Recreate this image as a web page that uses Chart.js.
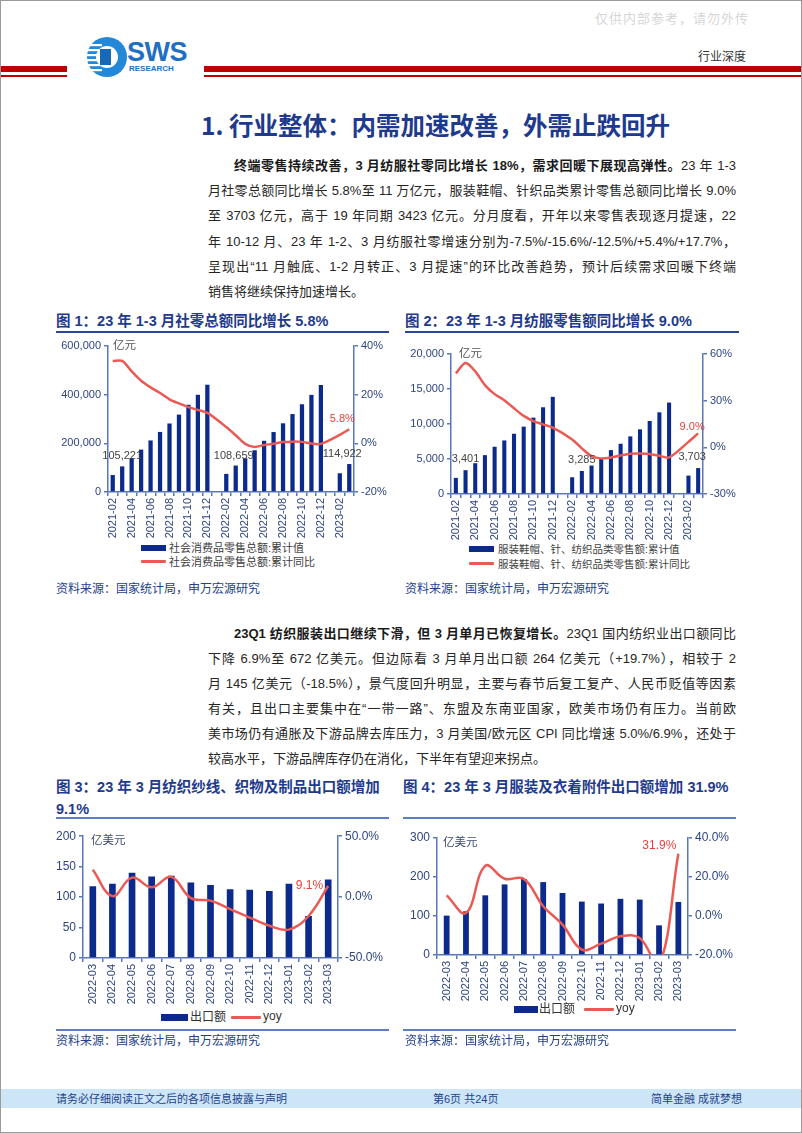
<!DOCTYPE html>
<html lang="zh-CN">
<head>
<meta charset="utf-8">
<script src="https://cdn.jsdelivr.net/npm/chart.js@4.4.0/dist/chart.umd.min.js"></script>
<style>
	body { margin: 0; background: #fff; }
	#page {
		position: relative; width: 802px; height: 1133px; box-sizing: border-box;
		border: 1px solid #9a9a9a; overflow: hidden; background: #fff;
		font-family: 'Liberation Sans', 'Noto Sans CJK SC', sans-serif;
	}
	.abs { position: absolute; white-space: nowrap; }
	.para { position: absolute; font-size: 13px; line-height: 20px; color: #262626;
		white-space: nowrap; text-align: justify; text-align-last: justify; }
	.para.last { text-align: left; text-align-last: left; }
	.para b { color: #1a1a1a; }
	.fig-title { position: absolute; font-size: 14.5px; font-weight: bold; color: #1f3b8c; line-height: 22px; white-space: nowrap; }
	.rule { position: absolute; height: 2px; background: #2a4895; }
	.rule.light { background: #5d7cc2; }
	.src { position: absolute; font-size: 12px; color: #23408e; white-space: nowrap; line-height: 16px; }
	.box { position: absolute; }
	.unit { position: absolute; font-size: 11.5px; line-height: 14px; white-space: nowrap; }
	.lg { position: absolute; font-size: 11px; line-height: 14px; color: #404040; white-space: nowrap; }
	.sw-bar { position: absolute; height: 6px; background: #0c2a8c; }
	.sw-line { position: absolute; height: 3px; background: #ea5a55; border-radius: 1px; }
</style>
</head>
<body>
<div id="page">
	<div class="abs" style="left:594px;top:7px;font-size:13px;color:#d6d6d6;letter-spacing:1px;">仅供内部参考，请勿外传</div>

	<!-- logo -->
	<svg class="abs" style="left:84px;top:34px;" width="42" height="44" viewBox="0 0 42 44">
		<circle cx="22" cy="22" r="20" fill="#2488d8"/>
		<circle cx="22" cy="22" r="11" fill="#fff"/>
		<rect x="15" y="14" width="11" height="16" fill="#1868b8"/>
		<rect x="0" y="9" width="17" height="2.2" fill="#fff"/>
		<rect x="0" y="14" width="15" height="2.2" fill="#fff"/>
		<rect x="0" y="19" width="14" height="2.2" fill="#fff"/>
		<rect x="0" y="24" width="14" height="2.2" fill="#fff"/>
		<rect x="0" y="29" width="15" height="2.2" fill="#fff"/>
		<rect x="0" y="34" width="17" height="2.2" fill="#fff"/>
	</svg>
	<div class="abs" style="left:126px;top:36px;font-size:27px;font-weight:bold;color:#1f6fc2;line-height:30px;letter-spacing:-0.5px;">SWS</div>
	<div class="abs" style="left:128px;top:63px;font-size:8px;font-weight:bold;color:#1f6fc2;line-height:10px;">RESEARCH</div>
	<div class="abs" style="left:697px;top:47px;font-size:12px;color:#333;line-height:16px;font-family:'Noto Sans CJK SC';">行业深度</div>

	<div class="abs" style="left:0;top:65px;width:66px;height:6px;background:#c00000;"></div>
	<div class="abs" style="left:0;top:74px;width:66px;height:2px;background:#c00000;"></div>
	<div class="abs" style="left:203px;top:65px;width:600px;height:6px;background:#c00000;"></div>
	<div class="abs" style="left:203px;top:74px;width:600px;height:2px;background:#c00000;"></div>

	<div class="abs" style="left:200px;top:108px;font-size:24.5px;font-weight:bold;color:#1d3a8e;line-height:32px;font-family:'Noto Sans CJK SC';">1. 行业整体：内需加速改善，外需止跌回升</div>

	<!-- paragraph 1 -->
	<div class="para" style="left:233px;top:155px;width:502px;"><b>终端零售持续改善，3 月纺服社零同比增长 18%，需求回暖下展现高弹性。</b>23 年 1-3</div>
	<div class="para" style="left:207px;top:180px;width:528px;">月社零总额同比增长 5.8%至 11 万亿元，服装鞋帽、针织品类累计零售总额同比增长 9.0%</div>
	<div class="para" style="left:207px;top:205px;width:528px;">至 3703 亿元，高于 19 年同期 3423 亿元。分月度看，开年以来零售表现逐月提速，22</div>
	<div class="para" style="left:207px;top:231px;width:528px;">年 10-12 月、23 年 1-2、3 月纺服社零增速分别为-7.5%/-15.6%/-12.5%/+5.4%/+17.7%，</div>
	<div class="para" style="left:207px;top:256px;width:528px;">呈现出“11 月触底、1-2 月转正、3 月提速”的环比改善趋势，预计后续需求回暖下终端</div>
	<div class="para last" style="left:207px;top:281px;width:528px;">销售将继续保持加速增长。</div>

	<!-- figure 1 / 2 -->
	<div class="fig-title" style="left:55px;top:309px;">图 1：23 年 1-3 月社零总额同比增长 5.8%</div>
	<div class="rule" style="left:55px;top:330px;width:333px;"></div>
	<div class="fig-title" style="left:404px;top:309px;">图 2：23 年 1-3 月纺服零售额同比增长 9.0%</div>
	<div class="rule" style="left:404px;top:330px;width:334px;"></div>

	<div class="box" style="left:50px;top:335px;width:340px;height:205px;"><canvas id="c1"></canvas></div>
	<div class="unit" style="left:112px;top:337px;color:#555;">亿元</div>
	<div class="sw-bar" style="left:140px;top:544px;width:25px;"></div>
	<div class="lg" style="left:168px;top:540px;">社会消费品零售总额:累计值</div>
	<div class="sw-line" style="left:140px;top:559px;width:25px;"></div>
	<div class="lg" style="left:168px;top:554px;">社会消费品零售总额:累计同比</div>

	<div class="box" style="left:400px;top:335px;width:340px;height:205px;"><canvas id="c2"></canvas></div>
	<div class="unit" style="left:458px;top:345px;color:#555;">亿元</div>
	<div class="sw-bar" style="left:468px;top:545px;width:25px;"></div>
	<div class="lg" style="left:497px;top:541px;font-size:10.5px;">服装鞋帽、针、纺织品类零售额:累计值</div>
	<div class="sw-line" style="left:468px;top:561px;width:25px;"></div>
	<div class="lg" style="left:497px;top:556px;font-size:10.5px;">服装鞋帽、针、纺织品类零售额:累计同比</div>

	<div class="src" style="left:55px;top:580px;">资料来源：国家统计局，申万宏源研究</div>
	<div class="src" style="left:404px;top:580px;">资料来源：国家统计局，申万宏源研究</div>

	<!-- paragraph 2 -->
	<div class="para" style="left:233px;top:623px;width:502px;"><b>23Q1 纺织服装出口继续下滑，但 3 月单月已恢复增长。</b>23Q1 国内纺织业出口额同比</div>
	<div class="para" style="left:207px;top:648px;width:528px;">下降 6.9%至 672 亿美元。但边际看 3 月单月出口额 264 亿美元（+19.7%），相较于 2</div>
	<div class="para" style="left:207px;top:673px;width:528px;">月 145 亿美元（-18.5%），景气度回升明显，主要与春节后复工复产、人民币贬值等因素</div>
	<div class="para" style="left:207px;top:698px;width:528px;">有关，且出口主要集中在“一带一路”、东盟及东南亚国家，欧美市场仍有压力。当前欧</div>
	<div class="para" style="left:207px;top:723px;width:528px;">美市场仍有通胀及下游品牌去库压力，3 月美国/欧元区 CPI 同比增速 5.0%/6.9%，还处于</div>
	<div class="para last" style="left:207px;top:748px;width:528px;">较高水平，下游品牌库存仍在消化，下半年有望迎来拐点。</div>

	<!-- figure 3 / 4 -->
	<div class="fig-title" style="left:55px;top:775px;">图 3：23 年 3 月纺织纱线、织物及制品出口额增加</div>
	<div class="fig-title" style="left:55px;top:797px;">9.1%</div>
	<div class="rule light" style="left:55px;top:816px;width:333px;"></div>
	<div class="fig-title" style="left:402px;top:775px;">图 4：23 年 3 月服装及衣着附件出口额增加 31.9%</div>
	<div class="rule light" style="left:402px;top:816px;width:333px;"></div>

	<div class="box" style="left:50px;top:825px;width:340px;height:180px;"><canvas id="c3"></canvas></div>
	<div class="unit" style="left:90px;top:832px;color:#3a4a70;">亿美元</div>
	<div class="sw-bar" style="left:160px;top:1013px;width:27px;height:7px;"></div>
	<div class="lg" style="left:189px;top:1009px;font-size:12px;color:#333;">出口额</div>
	<div class="sw-line" style="left:230px;top:1015px;width:30px;"></div>
	<div class="lg" style="left:262px;top:1008px;font-size:12px;color:#333;">yoy</div>
	<div class="rule light" style="left:55px;top:1028px;width:333px;"></div>

	<div class="box" style="left:400px;top:825px;width:340px;height:180px;"><canvas id="c4"></canvas></div>
	<div class="unit" style="left:442px;top:834px;color:#3a4a70;">亿美元</div>
	<div class="sw-bar" style="left:513px;top:1005px;width:24px;height:7px;"></div>
	<div class="lg" style="left:538px;top:1001px;font-size:12px;color:#333;">出口额</div>
	<div class="sw-line" style="left:583px;top:1007px;width:30px;"></div>
	<div class="lg" style="left:615px;top:1000px;font-size:12px;color:#333;">yoy</div>
	<div class="rule light" style="left:402px;top:1028px;width:333px;"></div>

	<div class="src" style="left:55px;top:1032px;">资料来源：国家统计局，申万宏源研究</div>
	<div class="src" style="left:404px;top:1032px;">资料来源：国家统计局，申万宏源研究</div>

	<!-- footer -->
	<div class="abs" style="left:0;top:1088px;width:802px;height:19px;background:#cde6f7;"></div>
	<div class="src" style="left:55px;top:1090px;font-size:11px;">请务必仔细阅读正文之后的各项信息披露与声明</div>
	<div class="src" style="left:432px;top:1090px;font-size:11px;">第6页 共24页</div>
	<div class="src" style="left:650px;top:1090px;font-size:11px;">简单金融 成就梦想</div>
</div>

<script>
	/* ---------------------------------------------------------
	 * DATA
	 * --------------------------------------------------------- */
	const monthsRetail = [
		'2021-02', '2021-03', '2021-04', '2021-05', '2021-06', '2021-07', '2021-08',
		'2021-09', '2021-10', '2021-11', '2021-12', '2022-01', '2022-02', '2022-03',
		'2022-04', '2022-05', '2022-06', '2022-07', '2022-08', '2022-09', '2022-10',
		'2022-11', '2022-12', '2023-01', '2023-02', '2023-03'
	];
	// 社会消费品零售总额:累计值 (亿元) / 累计同比 (%)
	const retailTotal = [
		69737, 105221, 138987, 174309, 211904, 246829, 281628, 318057, 358511, 399553, 440823, null,
		74426, 108659, 138318, 171689, 210432, 246302, 282289, 320305, 360575, 399190, 439733, null,
		77067, 114922
	];
	const retailTotalYoy = [
		33.8, 33.9, 29.6, 25.7, 23.0, 20.7, 18.1, 16.4, 14.9, 13.7, 12.5, null,
		6.7, 3.3, -0.2, -1.5, -0.7, -0.2, 0.5, 0.7, 0.6, -0.1, -0.2, null,
		3.5, 5.8
	];
	// 服装鞋帽、针、纺织品类零售额:累计值 (亿元) / 累计同比 (%)
	const apparelRetail = [
		2300, 3401, 4400, 5550, 6750, 7650, 8610, 9620, 10910, 12390, 13880, null,
		2390, 3285, 4070, 5070, 6270, 7180, 8230, 9235, 10430, 11670, 13060, null,
		2630, 3703
	];
	const apparelRetailYoy = [
		47.5, 54.2, 48.8, 40.0, 34.2, 30.3, 25.1, 20.2, 16.9, 14.8, 12.6, null,
		5.1, -0.7, -5.6, -7.1, -6.5, -5.3, -4.2, -4.0, -4.3, -5.4, -6.5, null,
		3.5, 9.0
	];

	const monthsExport = [
		'2022-03', '2022-04', '2022-05', '2022-06', '2022-07', '2022-08', '2022-09',
		'2022-10', '2022-11', '2022-12', '2023-01', '2023-02', '2023-03'
	];
	// 纺织纱线、织物及制品 出口额 (亿美元) / yoy (%)
	const textileExport = [118, 122, 140, 134, 135, 124, 120, 113, 112, 110, 122, 69, 129];
	const textileExportYoy = [22.5, 0.8, 16.0, 8.0, 16.6, -0.8, -2.9, -9.9, -16.8, -23.5, -26.7, -15.5, 9.1];
	// 服装及衣着附件 出口额 (亿美元) / yoy (%)
	const garmentExport = [101, 112, 153, 181, 195, 187, 159, 137, 132, 144, 142, 76, 136];
	const garmentExportYoy = [10.6, 1.5, 25.7, 19.1, 19.0, 5.0, -4.4, -17.2, -14.2, -10.4, -11.3, -25.0, 31.9];

	/* ---------------------------------------------------------
	 * SHARED STYLE
	 * --------------------------------------------------------- */
	const BAR = '#0c2a8c';
	const LINE = '#ea5a55';
	const AXIS = '#5a78b8';
	const TICK = '#2f4580';

	Chart.defaults.font.family = "'Liberation Sans', 'Noto Sans CJK SC', sans-serif";
	Chart.defaults.animation = false;

	const thousands = ( v ) => v.toLocaleString( 'en-US' );
	const pct0 = ( v ) => v + '%';
	const pct1 = ( v ) => v.toFixed( 1 ) + '%';

	// draws a few value labels next to chosen points
	const valueLabels = {
		id: 'valueLabels',
		afterDatasetsDraw( chart, args, opts ) {
			const ctx = chart.ctx;
			( opts.items || [] ).forEach( ( it ) => {
				const el = chart.getDatasetMeta( it.ds ).data[ it.i ];
				const value = chart.data.datasets[ it.ds ].data[ it.i ];
				ctx.save();
				ctx.font = ( it.size || 11 ) + "px 'Liberation Sans', sans-serif";
				ctx.fillStyle = it.color;
				ctx.textAlign = it.align || 'center';
				ctx.textBaseline = 'middle';
				ctx.fillText( it.fmt( value ), el.x + ( it.dx || 0 ), el.y + ( it.dy || 0 ) );
				ctx.restore();
			} );
		}
	};

	function yAxis( pos, min, max, step, fmt, width, size ) {
		return {
			position: pos,
			min,
			max,
			grid: { drawOnChartArea: false, tickLength: 4, color: AXIS, lineWidth: 1.5 },
			border: { color: AXIS, width: 1.5 },
			ticks: { stepSize: step, color: TICK, font: { size: size || 11 }, padding: 3, callback: fmt },
			afterFit: ( s ) => { s.width = width; }
		};
	}

	function xAxis( height, everyOther ) {
		return {
			grid: { drawOnChartArea: false, tickLength: 4, color: AXIS, lineWidth: 1.5 },
			border: { color: AXIS, width: 1.5 },
			ticks: {
				autoSkip: false,
				maxRotation: 90,
				minRotation: 90,
				color: TICK,
				font: { size: 11 },
				padding: 2,
				callback( v, i ) {
					if ( everyOther && i % 2 ) return '';
					return this.getLabelForValue( v );
				}
			},
			afterFit: ( s ) => { s.height = height; }
		};
	}

	function comboChart( id, cfg ) {
		return new Chart( document.getElementById( id ), {
			type: 'bar',
			data: {
				labels: cfg.labels,
				datasets: [
					{
						type: 'bar',
						data: cfg.bars,
						backgroundColor: BAR,
						barPercentage: cfg.barPct,
						categoryPercentage: 1,
						yAxisID: 'y',
						order: 2
					},
					{
						type: 'line',
						data: cfg.line,
						borderColor: LINE,
						borderWidth: 2.5,
						pointRadius: 0,
						tension: cfg.tension,
						spanGaps: true,
						yAxisID: 'y1',
						order: 1
					}
				]
			},
			options: {
				responsive: true,
				maintainAspectRatio: false,
				layout: { padding: { top: cfg.padTop, left: 0, right: 0, bottom: 0 } },
				plugins: {
					legend: { display: false },
					tooltip: { enabled: false },
					valueLabels: { items: cfg.labelsOn }
				},
				scales: {
					x: xAxis( cfg.xHeight, cfg.everyOther ),
					y: cfg.y,
					y1: cfg.y1
				}
			},
			plugins: [ valueLabels ]
		} );
	}

	/* ---------------------------------------------------------
	 * CHARTS
	 * --------------------------------------------------------- */
	comboChart( 'c1', {
		labels: monthsRetail,
		bars: retailTotal,
		line: retailTotalYoy,
		barPct: 0.45,
		tension: 0.3,
		padTop: 10,
		xHeight: 49,
		everyOther: true,
		y: yAxis( 'left', 0, 600000, 200000, thousands, 57 ),
		y1: yAxis( 'right', -20, 40, 20, pct0, 37 ),
		labelsOn: [
			{ ds: 0, i: 1, fmt: thousands, color: '#444', dy: -10 },
			{ ds: 0, i: 13, fmt: thousands, color: '#444', dy: -10, dx: -2 },
			{ ds: 0, i: 25, fmt: thousands, color: '#444', dy: -10, dx: -7 },
			{ ds: 1, i: 25, fmt: pct1, color: '#e8413c', dy: -10, dx: -7 }
		]
	} );

	comboChart( 'c2', {
		labels: monthsRetail,
		bars: apparelRetail,
		line: apparelRetailYoy,
		barPct: 0.42,
		tension: 0.3,
		padTop: 18,
		xHeight: 47,
		everyOther: true,
		y: yAxis( 'left', 0, 20000, 5000, thousands, 50, 11 ),
		y1: yAxis( 'right', -30, 60, 30, pct0, 38 ),
		labelsOn: [
			{ ds: 0, i: 1, fmt: thousands, color: '#444', dy: -11 },
			{ ds: 0, i: 13, fmt: thousands, color: '#444', dy: -11 },
			{ ds: 0, i: 25, fmt: thousands, color: '#444', dy: -11, dx: -6 },
			{ ds: 1, i: 25, fmt: pct1, color: '#e8413c', dy: -6, dx: -6 }
		]
	} );

	comboChart( 'c3', {
		labels: monthsExport,
		bars: textileExport,
		line: textileExportYoy,
		barPct: 0.34,
		tension: 0.4,
		padTop: 8,
		xHeight: 48,
		everyOther: false,
		y: yAxis( 'left', 0, 200, 50, ( v ) => v, 32, 12 ),
		y1: yAxis( 'right', -50, 50, 50, pct1, 53, 12 ),
		labelsOn: [
			{ ds: 1, i: 12, fmt: pct1, color: '#e8413c', align: 'right', dx: -5, dy: 0, size: 12 }
		]
	} );

	comboChart( 'c4', {
		labels: monthsExport,
		bars: garmentExport,
		line: garmentExportYoy,
		barPct: 0.3,
		tension: 0.4,
		padTop: 12,
		xHeight: 51,
		everyOther: false,
		y: yAxis( 'left', 0, 300, 100, ( v ) => v, 36, 12 ),
		y1: yAxis( 'right', -20, 40, 20, pct1, 53, 12 ),
		labelsOn: [
			{ ds: 1, i: 12, fmt: pct1, color: '#e8413c', align: 'right', dx: -2, dy: -8, size: 12 }
		]
	} );
</script>
</body>
</html>
